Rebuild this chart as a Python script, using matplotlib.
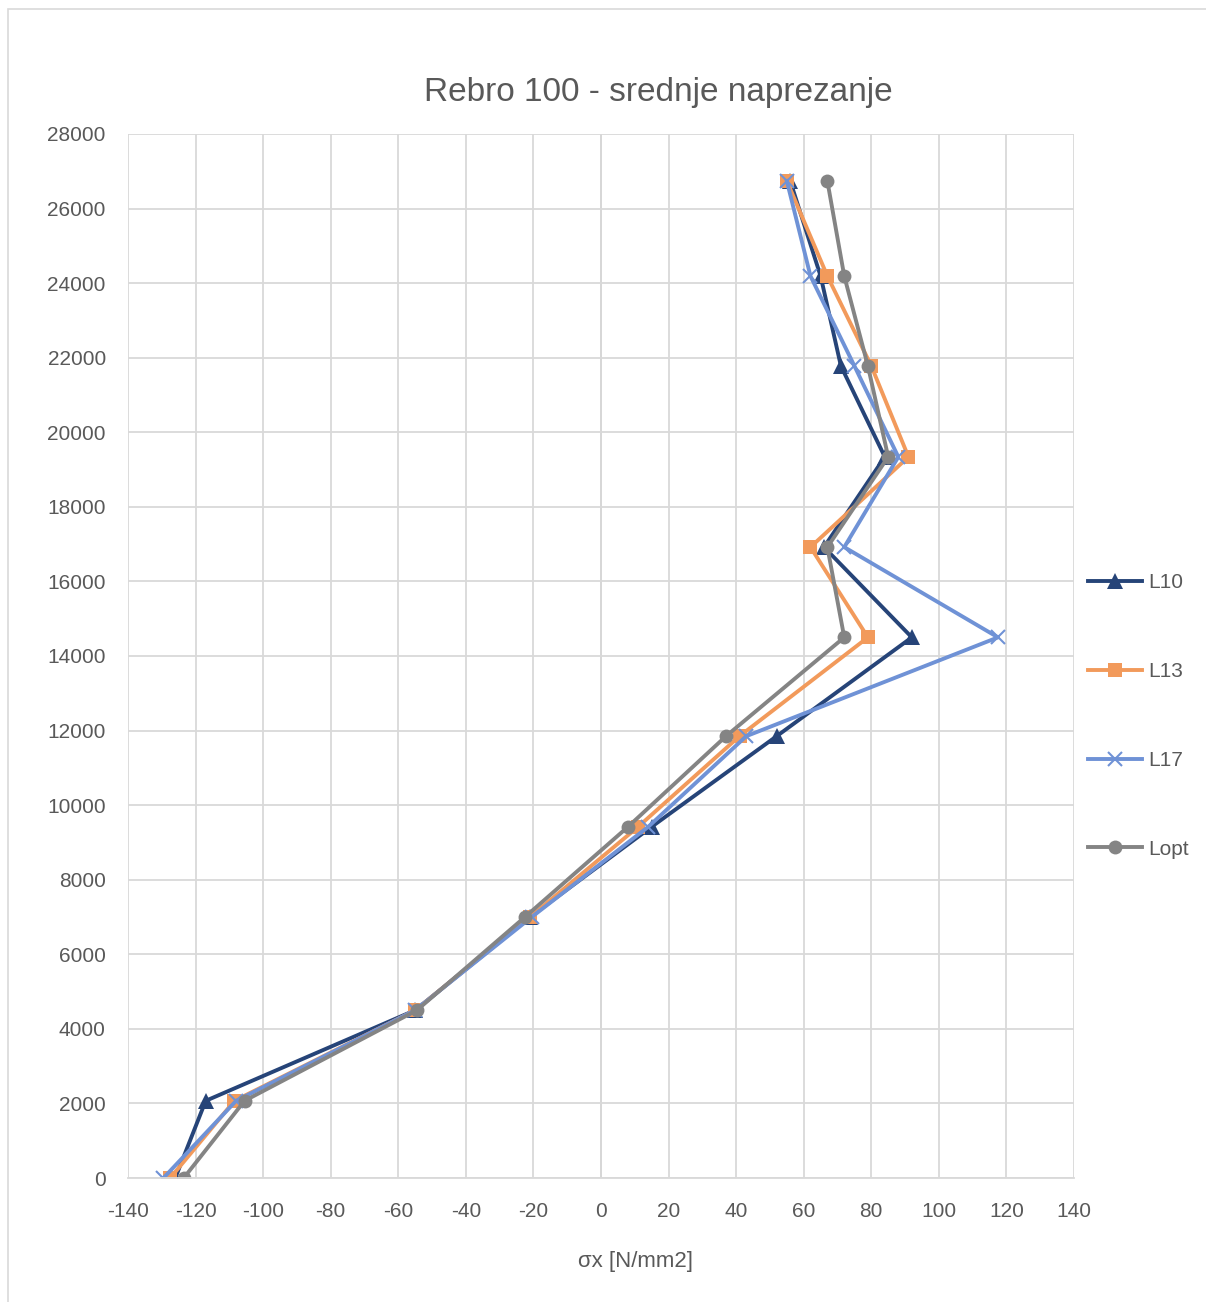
import matplotlib
matplotlib.use("Agg")
import matplotlib.pyplot as plt
from matplotlib.patches import Rectangle

plt.rcParams['font.family'] = ['Liberation Sans', 'DejaVu Sans']
plt.rcParams['axes.unicode_minus'] = False

# heights along the rib (same for every case)
y = [0, 2070, 4500, 7000, 9420, 11850, 14500, 16920, 19340, 21780, 24190, 26740]

# mean stress sigma_x per load case
L10 = [-126, -117, -55, -21, 15, 52, 92, 66, 84, 71, 65, 56]
L13 = [-127.5, -108.5, -55, -21, 11, 41, 79, 62, 91, 80, 67, 55]
L17 = [-129.5, -108, -55, -20.5, 14, 43, 117.5, 72, 88, 75, 62, 55]
Lopt = [-123.5, -105.5, -54.5, -22.5, 8, 37, 72, 67, 85, 79, 72, 67]

series = [
    ("L10", L10, "#264478", "^", 11),
    ("L13", L13, "#F29A5B", "s", 10),
    ("L17", L17, "#6F92D6", "x", 10),
    ("Lopt", Lopt, "#848484", "o", 10),
]

fig = plt.figure(figsize=(12.06, 13.02), dpi=100)
ax = fig.add_axes([128/1206, 1 - 1178/1302, (1074-128)/1206, (1178-134)/1302])

# chart border
fig.patches.append(Rectangle((8/1206, -0.01), 1.1, 1 - 9/1302 + 0.01,
                             transform=fig.transFigure, fill=False,
                             edgecolor="#d9d9d9", linewidth=1.2))

for name, xs, col, mk, ms in series:
    mew = 1.5 if mk == "x" else 0
    ax.plot(xs, y, color=col, linewidth=2.8, marker=mk, markersize=ms,
            markerfacecolor=col, markeredgecolor=col, markeredgewidth=mew,
            label=name)

ax.set_xlim(-140, 140)
ax.set_ylim(0, 28000)
ax.set_xticks(range(-140, 141, 20))
ax.set_yticks(range(0, 28001, 2000))
ax.grid(True, color="#d9d9d9", linewidth=1.3)
ax.set_axisbelow(True)
ax.axvline(0, color="#bfbfbf", linewidth=1.3, zorder=0.5)
for s in ["top", "right", "left"]:
    ax.spines[s].set_visible(False)
ax.spines["bottom"].set_color("#d9d9d9")
ax.spines["bottom"].set_linewidth(1.3)
ax.tick_params(length=0, labelsize=15, colors="#595959")
ax.tick_params(axis="x", pad=17)
ax.tick_params(axis="y", pad=16)

ax.set_xlabel("σx [N/mm2]", fontsize=16, color="#595959", labelpad=22)
ax.xaxis.label.set_x((635 - 128) / 946)
fig.text(658/1206, 1 - 92/1302, "Rebro 100 - srednje naprezanje",
         ha="center", va="center", fontsize=24, color="#595959")

leg = ax.legend(loc="center left", bbox_to_anchor=(1.0, 0.4425), frameon=False,
                fontsize=15, labelspacing=3.35, handlelength=2.6,
                handletextpad=0.3, borderaxespad=0.25)
for t in leg.get_texts():
    t.set_color("#595959")

fig.savefig("out.png", dpi=100, facecolor="white")
